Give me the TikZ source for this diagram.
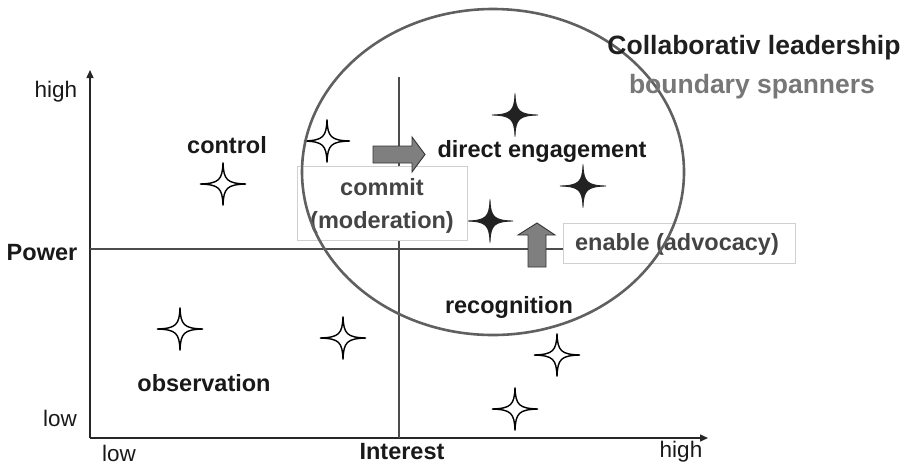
\documentclass[tikz,border=0pt]{standalone}
\usepackage{fontspec}
\setmainfont{Liberation Sans}
\usetikzlibrary{arrows.meta}
\definecolor{ellgray}{HTML}{606060}
\definecolor{boxgray}{HTML}{D0D0D0}
\definecolor{txtgray}{HTML}{444444}
\definecolor{subgray}{HTML}{777777}
\definecolor{arrgray}{HTML}{7F7F7F}
\definecolor{stardark}{HTML}{222222}
\tikzset{
  spark/.pic={\path[pic actions] (23,0) .. controls (4,0.6) and (0.6,4) .. (0,21.5) .. controls (-0.6,4) and (-4,0.6) .. (-23,0) .. controls (-4,-0.6) and (-0.6,-4) .. (0,-21.5) .. controls (0.6,-4) and (4,-0.6) .. (23,0) -- cycle;},
  openstar/.style={draw=black, fill=white, line width=1.4pt, line join=miter},
  solidstar/.style={draw=stardark, fill=stardark, line width=0.8pt},
  lbl/.style={inner sep=0pt, font=\fontsize{23.5}{28}\selectfont\bfseries, text=black!90},
  axlbl/.style={inner sep=0pt, font=\fontsize{22.5}{27}\selectfont, text=black!90},
  graylbl/.style={inner sep=0pt, font=\fontsize{23.5}{28}\selectfont\bfseries, text=txtgray},
  titlelbl/.style={inner sep=0pt, font=\fontsize{26.5}{30}\selectfont\bfseries},
  axisline/.style={line width=1.3pt, draw=black!85, -{Triangle[length=8pt,width=7pt]}},
  midline/.style={line width=1.1pt, draw=black!70},
  boxw/.style={draw=boxgray, fill=white, line width=1pt},
  blockarrow/.style={fill=arrgray, draw=black!80, line width=0.9pt, line join=miter},
}
\begin{document}
\begin{tikzpicture}[x=1pt,y=-1pt]
\useasboundingbox (0,0) rectangle (910,464);
% axes
\coordinate (O) at (90,438);
\coordinate (ytop) at (90,70);
\coordinate (xend) at (708,438);
\coordinate (vtop) at (399,77);
\coordinate (vbot) at (399,438);
\coordinate (hleft) at (90,249);
\coordinate (hright) at (563,249);
\draw[axisline] (O) -- (ytop);
\draw[axisline] (O) -- (xend);
\draw[midline] (vtop) -- (vbot);
\draw[midline] (hleft) -- (hright);
% stars
\pic[openstar] at (223,184) {spark};
\pic[openstar] at (180,329) {spark};
\pic[openstar] at (343,338) {spark};
\pic[openstar] at (557,355) {spark};
\pic[openstar] at (515,409) {spark};
\pic[openstar] at (327,141) {spark};
\pic[solidstar] at (515,115) {spark};
\pic[solidstar] at (583,186) {spark};
\pic[solidstar] at (490,221) {spark};
% boxes
\node[boxw, minimum width=170pt, minimum height=74pt, inner sep=0pt] (commitbox) at (382,203) {};
\node[boxw, minimum width=232pt, minimum height=40pt, inner sep=0pt] (enablebox) at (679,243) {};
\node[graylbl] (commit) at (382,187) {commit};
\node[graylbl] (moderation) at (382,222) {(moderation)};
\node[graylbl] (enable) at (677,244) {enable (advocacy)};
% block arrows
\draw[blockarrow] (373,146) -- (412,146) -- (412,137) -- (425,154.5) -- (412,172) -- (412,163) -- (373,163) -- cycle;
\draw[blockarrow] (528,267) -- (528,235) -- (518,235) -- (537,223) -- (555,235) -- (546,235) -- (546,267) -- cycle;
% ellipse
\draw[ellgray, line width=2.6pt] (493,172) ellipse [x radius=191, y radius=163];
% labels
\node[lbl] (control) at (227,145) {control};
\node[lbl] (observation) at (204,383) {observation};
\node[lbl] (power) at (42,253) {Power};
\node[lbl] (interest) at (402,452) {Interest};
\node[lbl] (direct) at (542,151) {direct engagement};
\node[lbl] (recognition) at (509,307) {recognition};
\node[axlbl] (yhigh) at (56,92) {high};
\node[axlbl] (ylow) at (60,418) {low};
\node[axlbl] (xlow) at (119,453) {low};
\node[axlbl] (xhigh) at (681,452) {high};
\node[titlelbl, text=black!88] (title) at (754,48) {Collaborativ leadership};
\node[titlelbl, text=subgray] (sub) at (752,87) {boundary spanners};
\end{tikzpicture}
\end{document}
